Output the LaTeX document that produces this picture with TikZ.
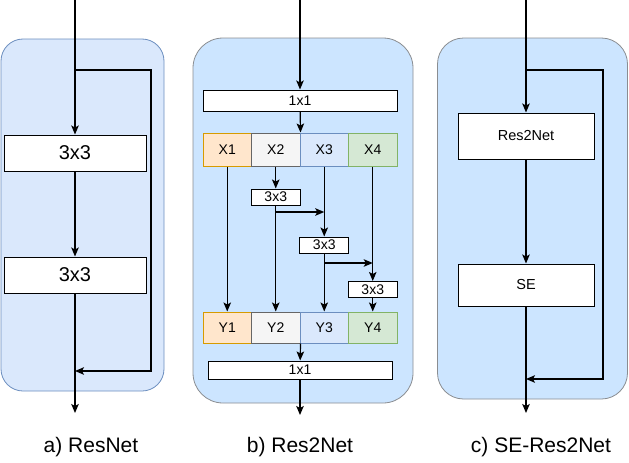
\documentclass[tikz,border=0pt]{standalone}
\usepackage{fontspec}
\setmainfont{Liberation Sans}
\usetikzlibrary{positioning, arrows.meta}
\definecolor{paneblue}{HTML}{DAE8FC}
\definecolor{paneedge}{HTML}{6C8EBF}
\definecolor{boxblue}{HTML}{CCE5FF}
\definecolor{boxedge}{HTML}{8A8D91}
\definecolor{orfill}{HTML}{FFE6CC}
\definecolor{ordraw}{HTML}{D79B00}
\definecolor{grfill}{HTML}{F5F5F5}
\definecolor{grdraw}{HTML}{666666}
\definecolor{blfill}{HTML}{DAE8FC}
\definecolor{bldraw}{HTML}{6C8EBF}
\definecolor{gnfill}{HTML}{D5E8D4}
\definecolor{gndraw}{HTML}{82B366}

\begin{document}
\begin{tikzpicture}[-{Stealth[length=9pt, width=7.5pt, inset=2pt]}, x=1pt, y=-1pt, line width=1.2pt,
        every edge/.style ={draw, line width=1.2pt},
        panel/.style ={rectangle, rounded corners=22pt, draw, line width=0.8pt, inner sep=0pt},
        block/.style ={rectangle, draw, fill=white, inner sep=0pt, line width=1pt},
        part/.style ={rectangle, draw, inner sep=0pt, line width=1pt, minimum width=48.5pt, minimum height=33pt, font=\fontsize{14}{16}\selectfont},
        caption/.style ={font=\fontsize{21}{24}\selectfont}]

        \useasboundingbox (0,0) rectangle (629,463);

        %panels
        \node[panel, fill=paneblue, draw=paneedge, minimum width=163pt, minimum height=352pt] (pa) at (82.5, 215) {};
        \node[panel, fill=boxblue, draw=boxedge, minimum width=220pt, minimum height=365pt, rounded corners=30pt] (pb) at (303, 220.5) {};
        \node[panel, fill=boxblue, draw=boxedge, minimum width=190pt, minimum height=361pt, rounded corners=26pt] (pc) at (532.5, 218.5) {};

        %a) ResNet
        \node[block, minimum width=142pt, minimum height=36pt, font=\fontsize{20}{22}\selectfont] (a1) at (75, 153) {3x3};
        \node[block, minimum width=142pt, minimum height=36pt, font=\fontsize{20}{22}\selectfont] (a2) at (75, 275) {3x3};
        \coordinate (ain) at (75, 0);
        \coordinate (aout) at (75, 413);
        \coordinate (asplit) at (75, 70);
        \coordinate (acorner1) at (151, 70);
        \coordinate (acorner2) at (151, 371);
        \coordinate (ajoin) at (75, 371);
        \path (ain) edge (a1);
        \path (a1) edge (a2);
        \path (a2) edge (aout);
        \draw (asplit) -- (acorner1) -- (acorner2) -- (ajoin);

        %b) Res2Net
        \node[block, minimum width=194pt, minimum height=21pt, font=\fontsize{14}{16}\selectfont] (b1) at (300, 100.5) {1x1};
        \node[part, fill=orfill, draw=ordraw] (x1) at (227.25, 149.5) {X1};
        \node[part, fill=grfill, draw=grdraw] (x2) at (275.75, 149.5) {X2};
        \node[part, fill=blfill, draw=bldraw] (x3) at (324.25, 149.5) {X3};
        \node[part, fill=gnfill, draw=gndraw] (x4) at (372.75, 149.5) {X4};
        \node[block, minimum width=49pt, minimum height=16pt, font=\fontsize{14}{16}\selectfont] (c1) at (275.75, 197) {3x3};
        \node[block, minimum width=49pt, minimum height=16pt, font=\fontsize{14}{16}\selectfont] (c2) at (324.25, 245) {3x3};
        \node[block, minimum width=49pt, minimum height=16pt, font=\fontsize{14}{16}\selectfont] (c3) at (372.75, 289.5) {3x3};
        \node[part, fill=orfill, draw=ordraw, minimum height=31pt] (y1) at (227.25, 327.5) {Y1};
        \node[part, fill=grfill, draw=grdraw, minimum height=31pt] (y2) at (275.75, 327.5) {Y2};
        \node[part, fill=blfill, draw=bldraw, minimum height=31pt] (y3) at (324.25, 327.5) {Y3};
        \node[part, fill=gnfill, draw=gndraw, minimum height=31pt] (y4) at (372.75, 327.5) {Y4};
        \node[block, minimum width=184pt, minimum height=18pt, font=\fontsize{14}{16}\selectfont] (b2) at (300, 370) {1x1};
        \coordinate (bin) at (300, 0);
        \coordinate (bout) at (300, 415);
        \coordinate (b2s) at (275.75, 212);
        \coordinate (b2e) at (324.25, 212);
        \coordinate (b3s) at (324.25, 263);
        \coordinate (b3e) at (372.75, 263);

        \path (bin) edge (b1);
        \path (b1) edge (x2.north east);
        \path (x1) edge (y1);
        \path (x2) edge (c1);
        \path (c1) edge (y2);
        \path (b2s) edge (b2e);
        \path (x3) edge (c2);
        \path (c2) edge (y3);
        \path (b3s) edge (b3e);
        \path (x4) edge (c3);
        \path (c3) edge (y4);
        \path (y2.south east) edge (b2);
        \path (b2) edge (bout);

        %c) SE-Res2Net
        \node[block, minimum width=136pt, minimum height=46pt, font=\fontsize{14.5}{16}\selectfont] (r2) at (526, 136) {Res2Net};
        \node[block, minimum width=136pt, minimum height=42pt, font=\fontsize{14.5}{16}\selectfont] (se) at (526, 285) {SE};
        \coordinate (cin) at (526, 0);
        \coordinate (cout) at (526, 413);
        \coordinate (csplit) at (526, 70);
        \coordinate (ccorner1) at (603, 70);
        \coordinate (ccorner2) at (603, 379);
        \coordinate (cjoin) at (526, 379);
        \path (cin) edge (r2);
        \path (r2) edge (se);
        \path (se) edge (cout);
        \draw (csplit) -- (ccorner1) -- (ccorner2) -- (cjoin);

        %captions
        \node[caption] (la) at (91, 447) {a) ResNet};
        \node[caption] (lb) at (300, 447) {b) Res2Net};
        \node[caption] (lc) at (541, 447) {c) SE-Res2Net};
    \end{tikzpicture}
\end{document}
